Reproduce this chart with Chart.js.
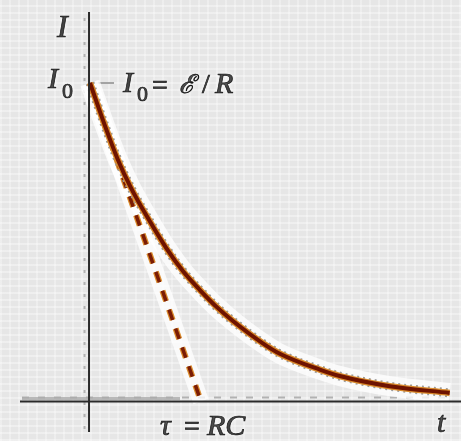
<!DOCTYPE html>
<html>
<head>
<meta charset="utf-8">
<script src="https://cdn.jsdelivr.net/npm/chart.js@4.4.1/dist/chart.umd.min.js"></script>
<style>
  html, body { margin: 0; padding: 0; }
  body {
    width: 461px; height: 441px; overflow: hidden;
    background-color: #e6e6e6;
    background-image:
      repeating-linear-gradient(0deg, rgba(255,255,255,0.35) 0 2px, rgba(255,255,255,0) 2px 7px),
      repeating-linear-gradient(90deg, rgba(255,255,255,0.3) 0 2px, rgba(255,255,255,0) 2px 9px);
  }
  canvas { display: block; }
</style>
</head>
<body>
<canvas id="c" width="461" height="441"></canvas>
<script>
// Discharge current of a capacitor through a resistor.
// Time in units of tau = RC, current in units of I0 = E/R.
const timeValues    = [0, 0.13, 0.25, 0.37, 0.54, 0.69, 0.84, 0.99, 1.14, 1.29, 1.56, 1.71, 2.07, 2.25, 2.70, 3.24];
const currentValues = [1.0, 0.87, 0.76, 0.67, 0.565, 0.48, 0.408, 0.35, 0.297, 0.252, 0.182, 0.150, 0.100, 0.080, 0.048, 0.027];

// Initial-slope line: starts at I0 and reaches zero at t = tau.
const tangentTimes   = [0, 1];
const tangentCurrent = [1, 0];

const curvePts   = timeValues.map((t, i) => ({ x: t, y: currentValues[i] }));
const tangentPts = tangentTimes.map((t, i) => ({ x: t, y: tangentCurrent[i] }));

const axesPlugin = {
  id: 'axes',
  beforeDatasetsDraw(chart) {
    const { ctx, scales: { x, y } } = chart;
    const x0 = x.getPixelForValue(0);
    const y0 = y.getPixelForValue(0);
    const yI0 = y.getPixelForValue(1);
    ctx.save();
    // faint dotted guide lines alongside the axes
    ctx.strokeStyle = '#b2b2b2';
    ctx.lineWidth = 2;
    ctx.setLineDash([3, 9]);
    ctx.beginPath(); ctx.moveTo(x0 - 5.5, 18); ctx.lineTo(x0 - 5.5, 432); ctx.stroke();
    ctx.setLineDash([7, 9]);
    ctx.beginPath(); ctx.moveTo(22, y0 - 4); ctx.lineTo(452, y0 - 4); ctx.stroke();
    ctx.setLineDash([]);
    ctx.strokeStyle = 'rgba(170,170,170,0.8)';
    ctx.lineWidth = 3;
    ctx.beginPath(); ctx.moveTo(22, y0 - 3); ctx.lineTo(180, y0 - 3); ctx.stroke();
    // I0 marker
    ctx.strokeStyle = '#8a8a8a';
    ctx.lineWidth = 1.5;
    ctx.beginPath(); ctx.moveTo(x0, yI0); ctx.lineTo(x0 + 24, yI0); ctx.stroke();
    ctx.restore();
  },
  afterDatasetsDraw(chart) {
    const { ctx, scales: { x, y } } = chart;
    const x0 = x.getPixelForValue(0);
    const y0 = y.getPixelForValue(0);
    ctx.save();
    ctx.strokeStyle = '#2a2a2a';
    ctx.lineWidth = 2;
    ctx.beginPath(); ctx.moveTo(x0 - 1, 12); ctx.lineTo(x0 - 1, 432); ctx.stroke();
    ctx.beginPath(); ctx.moveTo(20, y0); ctx.lineTo(461, y0); ctx.stroke();
    ctx.restore();
  }
};

const labelPlugin = {
  id: 'labels',
  afterDraw(chart) {
    const { ctx } = chart;
    ctx.save();
    ctx.fillStyle = '#151515';
    ctx.strokeStyle = '#151515';
    ctx.lineWidth = 0.7;
    ctx.shadowColor = 'rgba(255,255,255,0.95)';
    ctx.shadowBlur = 4;
    ctx.textBaseline = 'alphabetic';
    const draw = (s, x, y) => { ctx.fillText(s, x, y); ctx.strokeText(s, x, y); };
    const it = (s, px, x, y) => { ctx.font = 'italic ' + px + 'px "Liberation Serif", serif'; draw(s, x, y); };
    const rm = (s, px, x, y) => { ctx.font = px + 'px "Liberation Serif", serif'; draw(s, x, y); };
    const sc = (s, px, x, y) => { ctx.font = 'italic ' + px + 'px "DejaVu Serif", serif'; draw(s, x, y); };
    // vertical axis title
    it('I', 32, 57, 37);
    // I0 on the axis
    it('I', 30, 48, 88);
    rm('0', 22, 62, 98);
    // I0 = E/R
    it('I', 30, 123, 92);
    rm('0', 22, 137, 101);
    rm('=', 28, 152, 94);
    sc('\u2130', 26, 179, 93);
    rm('/', 28, 202, 93);
    it('R', 30, 215, 93);
    // tau = RC
    it('\u03C4', 30, 160, 435);
    rm('=', 28, 184, 435);
    it('RC', 30, 207, 435);
    // horizontal axis title
    it('t', 30, 437, 432);
    ctx.restore();
  }
};

// Chart.js paints the first dataset on top, so the list runs top layer first.
new Chart(document.getElementById('c'), {
  type: 'line',
  data: {
    datasets: [
      { data: curvePts, borderColor: '#6e1300', borderWidth: 4, pointRadius: 0, cubicInterpolationMode: 'monotone' },
      { data: curvePts, borderColor: '#d9892a', borderWidth: 6.5, pointRadius: 0, cubicInterpolationMode: 'monotone' },
      { data: curvePts, borderColor: '#9b9b9b', borderWidth: 9, borderDash: [2, 4], pointRadius: 0, cubicInterpolationMode: 'monotone' },
      { data: tangentPts, borderColor: '#7a1c05', borderWidth: 3.5, borderDash: [11, 9], pointRadius: 0, tension: 0 },
      { data: tangentPts, borderColor: '#d98a2b', borderWidth: 6, borderDash: [11, 9], pointRadius: 0, tension: 0 },
      { data: curvePts, borderColor: 'rgba(255,255,255,0.75)', borderWidth: 20, pointRadius: 0, cubicInterpolationMode: 'monotone' },
      { data: tangentPts, borderColor: 'rgba(255,255,255,0.75)', borderWidth: 16, pointRadius: 0, tension: 0 }
    ]
  },
  options: {
    responsive: false,
    animation: false,
    events: [],
    layout: { padding: 0 },
    plugins: { legend: { display: false }, tooltip: { enabled: false } },
    scales: {
      x: { type: 'linear', display: false, min: -0.811, max: 3.342 },
      y: { type: 'linear', display: false, min: -0.124, max: 1.2606 }
    }
  },
  plugins: [axesPlugin, labelPlugin]
});
</script>
</body>
</html>
